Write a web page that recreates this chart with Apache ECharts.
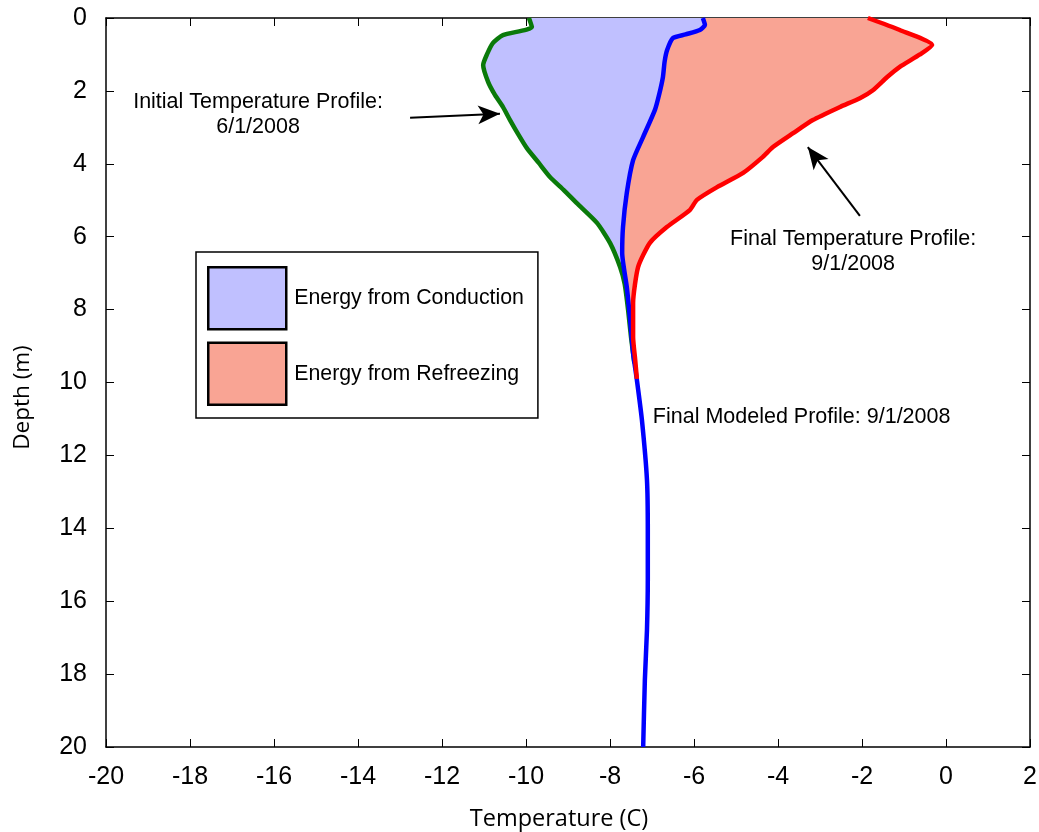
<!DOCTYPE html>
<html>
<head>
<meta charset="utf-8">
<script src="https://cdn.jsdelivr.net/npm/echarts@6/dist/echarts.min.js"></script>
<style>html,body{margin:0;padding:0;background:#fff}#c{width:1039px;height:832px}</style>
</head>
<body>
<div id="c"></div>
<script>
// [temperature C, depth m]
var initialProfile = [[-9.93,0],[-9.86,0.25],[-10.55,0.47],[-10.79,0.69],[-10.93,1.0],[-11.02,1.29],[-10.9,1.76],[-10.74,2.11],[-10.55,2.44],[-10.38,2.8],[-10.18,3.2],[-9.98,3.57],[-9.7,3.97],[-9.43,4.36],[-9.1,4.72],[-8.79,5.08],[-8.31,5.62],[-8.0,6.17],[-7.76,6.83],[-7.65,7.3],[-7.57,8.0],[-7.5,8.75],[-7.42,9.47]];
var modeledProfile = [[-5.79,0],[-5.74,0.19],[-5.86,0.33],[-6.2,0.45],[-6.5,0.55],[-6.64,0.88],[-6.7,1.2],[-6.74,1.62],[-6.83,2.1],[-6.93,2.52],[-7.21,3.26],[-7.45,3.9],[-7.6,4.8],[-7.69,5.73],[-7.71,6.45],[-7.6,7.38],[-7.52,8.29],[-7.45,9.19],[-7.36,9.93],[-7.24,11.03],[-7.12,12.67],[-7.1,14.05],[-7.1,15.4],[-7.12,16.8],[-7.17,18.16],[-7.21,20]];
var finalProfile = [[-1.86,0],[-1.1,0.33],[-0.33,0.74],[-0.62,1.0],[-1.1,1.34],[-1.4,1.62],[-1.74,1.98],[-2.05,2.2],[-2.52,2.44],[-3.17,2.8],[-3.64,3.16],[-4.12,3.54],[-4.36,3.81],[-4.83,4.25],[-5.45,4.64],[-5.93,4.99],[-6.1,5.27],[-6.64,5.73],[-7.05,6.17],[-7.33,6.83],[-7.45,7.82],[-7.45,8.75],[-7.4,9.38],[-7.36,9.9]];
var xTicks = [-20,2,2];   // min, max, interval
var yTicks = [0,20,2];
var legendNames = ['Energy from Conduction','Energy from Refreezing'];
var annotations = [
  {text:'Initial Temperature Profile:\n6/1/2008', at:[-16.38,2.65], align:'center'},
  {text:'Final Temperature Profile:\n9/1/2008', at:[-2.21,6.42], align:'center'},
  {text:'Final Modeled Profile: 9/1/2008', at:[-6.98,10.95], align:'left'}
];
var arrows = [
  [[-12.76,2.74],[-10.62,2.63]],
  [[-2.05,5.43],[-3.29,3.54]]
];

function upTo(arr, maxDepth){ return arr.filter(function(p){return p[1] <= maxDepth;}); }
var conductionPoly = initialProfile.concat(upTo(modeledProfile, 9.3).slice().reverse());
var refreezePoly = upTo(modeledProfile, 9.93).concat(finalProfile.slice().reverse());

function polySeries(name, poly, color){
  return {
    type:'custom', name:name, data:poly, z:1,
    encode:{x:0,y:1},
    itemStyle:{color:color, borderColor:'#000', borderWidth:2},
    renderItem:function(params, api){
      if (params.dataIndex !== 0) return null;
      var pts = poly.map(function(p){ return api.coord(p); });
      return {type:'polygon', shape:{points:pts}, style:{fill:color}};
    },
    silent:true
  };
}

var tickFont = {fontFamily:'Liberation Sans, Arial, sans-serif', fontSize:25, color:'#000'};
var axisLineStyle = {color:'#000', width:1.5};
var textFont = 'Liberation Sans, Arial, sans-serif';

var option = {
  animation:false,
  backgroundColor:'#fff',
  grid:{left:106, right:9, top:18, bottom:85, containLabel:false, outerBoundsMode:'none'},
  legend:{
    left:196, top:252, orient:'vertical',
    itemWidth:78, itemHeight:62, itemGap:11,
    padding:[14,14,12,11],
    borderColor:'#000', borderWidth:1.5, backgroundColor:'#fff',
    textStyle:{fontFamily:textFont, fontSize:21.3, color:'#000', padding:[0,0,0,3]},
    data:[
      {name:legendNames[0], icon:'rect', itemStyle:{color:'#c0c0ff', borderColor:'#000', borderWidth:2.5}},
      {name:legendNames[1], icon:'rect', itemStyle:{color:'#f9a494', borderColor:'#000', borderWidth:2.5}}
    ]
  },
  xAxis:[{
    type:'value', min:xTicks[0], max:xTicks[1], interval:xTicks[2], position:'bottom',
    name:'Temperature (C)', nameLocation:'middle', nameGap:60,
    nameTextStyle:{fontFamily:'Open Sans, sans-serif', fontSize:23.5, color:'#000', padding:[0,18,0,0]},
    axisLine:{show:true, lineStyle:axisLineStyle, onZero:false},
    axisTick:{show:true, inside:true, length:8, lineStyle:{color:'#000', width:1}},
    axisLabel:Object.assign({margin:18}, tickFont),
    splitLine:{show:false}
  },{
    type:'value', min:xTicks[0], max:xTicks[1], interval:xTicks[2], position:'top',
    axisLine:{show:true, lineStyle:axisLineStyle, onZero:false},
    axisTick:{show:true, inside:true, length:8, lineStyle:{color:'#000', width:1}},
    axisLabel:{show:false}, splitLine:{show:false}
  }],
  yAxis:[{
    type:'value', min:yTicks[0], max:yTicks[1], interval:yTicks[2], inverse:true, position:'left',
    name:'Depth (m)', nameLocation:'middle', nameGap:72,
    nameTextStyle:{fontFamily:'Open Sans, sans-serif', fontSize:22.5, color:'#000', padding:[0,30,0,0]},
    axisLine:{show:true, lineStyle:axisLineStyle, onZero:false},
    axisTick:{show:true, inside:true, length:8, lineStyle:{color:'#000', width:1}},
    axisLabel:Object.assign({margin:19}, tickFont),
    splitLine:{show:false}
  },{
    type:'value', min:yTicks[0], max:yTicks[1], interval:yTicks[2], inverse:true, position:'right',
    axisLine:{show:true, lineStyle:axisLineStyle, onZero:false},
    axisTick:{show:true, inside:true, length:8, lineStyle:{color:'#000', width:1}},
    axisLabel:{show:false}, splitLine:{show:false}
  }],
  series:[
    polySeries(legendNames[0], conductionPoly, '#c0c0ff'),
    polySeries(legendNames[1], refreezePoly, '#f9a494'),
    {type:'line', name:'Initial', data:initialProfile, showSymbol:false, smooth:0.2, z:2,
     lineStyle:{color:'#0a7a0a', width:4.5}, itemStyle:{color:'#0a7a0a'}},
    {type:'line', name:'Modeled', data:modeledProfile, showSymbol:false, smooth:0.2, z:3,
     lineStyle:{color:'#0000ff', width:4.5}, itemStyle:{color:'#0000ff'}},
    {type:'line', name:'Final', data:finalProfile, showSymbol:false, smooth:0.2, z:4,
     lineStyle:{color:'#ff0000', width:4.5}, itemStyle:{color:'#ff0000'}},
    {type:'scatter', name:'notes', symbolSize:0, z:5, silent:true,
     itemStyle:{opacity:1, color:'#000'},
     data:annotations.map(function(a){
       return {value:a.at, label:{show:true, formatter:a.text, position:a.align==='left'?'right':'inside',
         distance:0, align:a.align, verticalAlign:'middle', opacity:1,
         fontFamily:textFont, fontSize:21.5, lineHeight:25, color:'#000'}};
     }),
     markLine:{silent:true, symbol:['none','arrow'], symbolSize:[14,22], precision:4,
       lineStyle:{color:'#000', width:2, type:'solid', opacity:1}, label:{show:false},
       data:arrows.map(function(a){ return [{coord:a[0]},{coord:a[1]}]; })}
    }
  ]
};
var chart = echarts.init(document.getElementById('c'), null, {renderer:'canvas'});
chart.setOption(option);
</script>
</body>
</html>
